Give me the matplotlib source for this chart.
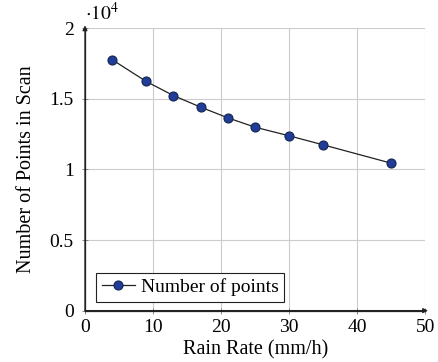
import numpy as np
import matplotlib
matplotlib.use("Agg")
import matplotlib.pyplot as plt
from matplotlib.ticker import FuncFormatter, MultipleLocator

plt.rcParams['font.family'] = ['Liberation Serif', 'DejaVu Serif']
plt.rcParams['mathtext.fontset'] = 'stix'

# data
rain_rate = [4, 9, 13, 17, 21, 25, 30, 35, 45]
num_points = [17770, 16230, 15230, 14410, 13650, 12990, 12380, 11740, 10440]

fig = plt.figure(figsize=(4.38, 3.62), dpi=100)
ax = fig.add_axes([0.194, 0.142, 0.777, 0.780])

ax.plot(rain_rate, num_points, color='#222222', linewidth=0.9,
        marker='o', markersize=6.5, markerfacecolor='#1f3d99',
        markeredgecolor='#14264f', markeredgewidth=0.8,
        label='Number of points', zorder=3)

ax.set_xlim(0, 50)
ax.set_ylim(0, 20000)
ax.xaxis.set_major_locator(MultipleLocator(10))
ax.yaxis.set_major_locator(MultipleLocator(5000))
ax.yaxis.set_major_formatter(FuncFormatter(lambda v, p: f"{v / 1e4:g}"))

ax.grid(True, color='#cccccc', linewidth=0.8)
ax.set_axisbelow(True)
for s in ['top', 'right']:
    ax.spines[s].set_visible(False)
for s in ['left', 'bottom']:
    ax.spines[s].set_linewidth(0.9)
    ax.spines[s].set_color('#222222')

ax.tick_params(direction='inout', length=4, width=0.6, color='#777777',
               labelsize=14)
ax.tick_params(axis='x', pad=4)
ax.tick_params(axis='y', pad=6)

# arrow heads on the axis lines
ax.annotate('', xy=(0, 1.01), xytext=(0, 0), xycoords='axes fraction',
            arrowprops=dict(arrowstyle='-|>', color='#222222', lw=0.9,
                            mutation_scale=7, shrinkA=0, shrinkB=0))
ax.annotate('', xy=(1.008, 0), xytext=(0, 0), xycoords='axes fraction',
            arrowprops=dict(arrowstyle='-|>', color='#222222', lw=0.9,
                            mutation_scale=7, shrinkA=0, shrinkB=0))

ax.text(0.0, 1.015, r'$\cdot 10^4$', transform=ax.transAxes, fontsize=14,
        ha='left', va='bottom')

ax.set_xlabel('Rain Rate (mm/h)', fontsize=14.5, labelpad=3)
ax.set_ylabel('Number of Points in Scan', fontsize=14.5, labelpad=10)

leg = ax.legend(loc='lower left', fontsize=14, fancybox=False,
                edgecolor='#222222', framealpha=1, borderpad=0.3,
                handlelength=1.7, handletextpad=0.3, borderaxespad=0,
                bbox_to_anchor=(0.032, 0.03))
leg.get_frame().set_linewidth(0.8)

fig.savefig('out.png', dpi=100)
